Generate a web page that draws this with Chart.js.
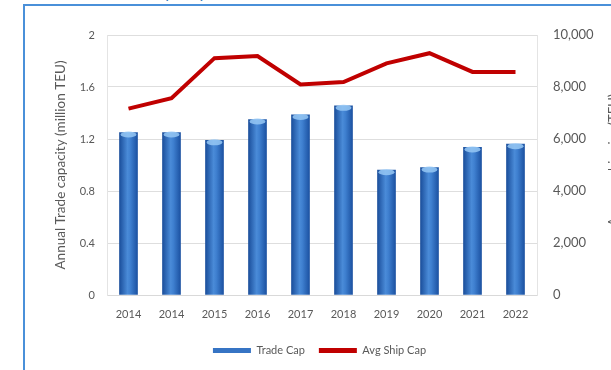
<!DOCTYPE html>
<html>
<head>
<meta charset="utf-8">
<script src="https://cdn.jsdelivr.net/npm/chart.js@4"></script>
<style>
  html, body { margin: 0; padding: 0; background: #fff; overflow: hidden; }
  body { width: 611px; height: 370px; position: relative; }
  #wrap { position: absolute; left: 0; top: 0; width: 640px; height: 370px; }
  #frame {
    position: absolute; left: 23px; top: 4px; width: 700px; height: 400px;
    border-left: 2px solid #4a90d9; border-top: 2px solid #4a90d9;
    pointer-events: none;
  }
  #caption {
    position: absolute; left: 151px; top: -18px;
    font: italic 16px Lato, sans-serif; color: #2e75b6; white-space: nowrap;
  }
</style>
</head>
<body>
<div id="caption">capacity</div>
<div id="wrap"><canvas id="tradeChart" width="640" height="370"></canvas></div>
<div id="frame"></div>
<script>
const years = ['2014', '2014', '2015', '2016', '2017', '2018', '2019', '2020', '2021', '2022'];
const tradeCap = [1.25, 1.25, 1.19, 1.35, 1.385, 1.455, 0.96, 0.98, 1.135, 1.16];
const avgShipCap = [7170, 7570, 9110, 9190, 8100, 8190, 8910, 9300, 8580, 8580];
const leftTicks = [0, 0.4, 0.8, 1.2, 1.6, 2];
const rightTicks = [0, 2000, 4000, 6000, 8000, 10000];

const grey = '#595959';
const barHalf = 9;

// cylinder look: dark edges, lighter middle
function barFill(context) {
    const chart = context.chart;
    const xs = chart.scales.x;
    if (!xs || context.dataIndex === undefined) return '#2f6fc1';
    const cx = xs.getPixelForValue(context.dataIndex);
    if (!isFinite(cx)) return '#2f6fc1';
    const g = chart.ctx.createLinearGradient(cx - barHalf, 0, cx + barHalf, 0);
    g.addColorStop(0, '#1b4f9c');
    g.addColorStop(0.45, '#4a8bd8');
    g.addColorStop(0.6, '#3f80d0');
    g.addColorStop(1, '#1c52a2');
    return g;
}

// light cap on top of each bar
const barCaps = {
    id: 'barCaps',
    afterDatasetDraw(chart, args) {
        if (args.index !== 0) return;
        const ctx = chart.ctx;
        args.meta.data.forEach(bar => {
            ctx.save();
            ctx.beginPath();
            ctx.ellipse(bar.x, bar.y + 2, barHalf - 1, 3, 0, 0, Math.PI * 2);
            ctx.fillStyle = 'rgba(150, 200, 245, 0.85)';
            ctx.fill();
            ctx.restore();
        });
    }
};

// right axis title, reading bottom to top
const rightTitle = {
    id: 'rightTitle',
    afterDraw(chart) {
        const ctx = chart.ctx;
        const area = chart.chartArea;
        ctx.save();
        ctx.translate(area.right + 77, (area.top + area.bottom) / 2 - 5);
        ctx.rotate(-Math.PI / 2);
        ctx.font = '13px Lato';
        ctx.fillStyle = grey;
        ctx.textAlign = 'center';
        ctx.textBaseline = 'middle';
        ctx.fillText('Average ship size (TEU)', 0, 0);
        ctx.restore();
    }
};

const chartData = {
    labels: years,
    datasets: [
        {
            type: 'bar',
            label: 'Trade Cap',
            data: tradeCap,
            backgroundColor: barFill,
            barThickness: barHalf * 2,
            yAxisID: 'y',
            order: 1
        },
        {
            type: 'line',
            label: 'Avg Ship Cap',
            data: avgShipCap,
            borderColor: '#c00000',
            backgroundColor: '#c00000',
            borderWidth: 4,
            pointRadius: 0,
            tension: 0,
            yAxisID: 'y2',
            order: 0
        }
    ]
};

const config = {
    data: chartData,
    options: {
        responsive: false,
        animation: false,
        layout: { padding: { top: 35, left: 40, right: 41, bottom: 4 } },
        plugins: {
            tooltip: { enabled: false },
            legend: {
                position: 'bottom',
                labels: {
                    font: { family: 'Lato', size: 11 },
                    color: grey,
                    boxWidth: 38,
                    boxHeight: 5,
                    padding: 14,
                    sort: (a, b) => a.datasetIndex - b.datasetIndex,
                    generateLabels(chart) {
                        const items = Chart.defaults.plugins.legend.labels.generateLabels(chart);
                        items.forEach(item => {
                            if (item.datasetIndex === 0) {
                                item.fillStyle = '#3674c4';
                                item.strokeStyle = '#3674c4';
                            }
                            item.lineWidth = 0;
                        });
                        return items;
                    }
                }
            }
        },
        scales: {
            x: {
                grid: { display: false, drawTicks: false },
                border: { color: '#d9d9d9' },
                ticks: { color: grey, font: { family: 'Lato', size: 11 }, padding: 13 },
                afterFit(scale) { scale.height = 36; }
            },
            y: {
                position: 'left',
                min: 0,
                max: 2,
                afterBuildTicks(scale) { scale.ticks = leftTicks.map(v => ({ value: v })); },
                grid: { color: '#dedede', drawTicks: false },
                border: { color: '#e4e4e4' },
                ticks: {
                    color: grey,
                    font: { family: 'Lato', size: 11 },
                    padding: 12,
                    callback: v => String(v)
                },
                title: {
                    display: true,
                    text: 'Annual Trade capacity (million TEU)',
                    color: grey,
                    font: { family: 'Lato', size: 13.5 },
                    padding: { top: 13, bottom: 0 }
                },
                afterFit(scale) { scale.width = 67; }
            },
            y2: {
                position: 'right',
                min: 0,
                max: 10000,
                afterBuildTicks(scale) { scale.ticks = rightTicks.map(v => ({ value: v })); },
                grid: { display: false, drawTicks: false },
                border: { color: '#e4e4e4' },
                ticks: {
                    color: grey,
                    font: { family: 'Lato', size: 13 },
                    padding: 16,
                    callback: v => v.toLocaleString('en-US')
                },
                afterFit(scale) { scale.width = 62; }
            }
        }
    },
    plugins: [barCaps, rightTitle]
};

const tradeChart = new Chart(document.getElementById('tradeChart'), config);
</script>
</body>
</html>
